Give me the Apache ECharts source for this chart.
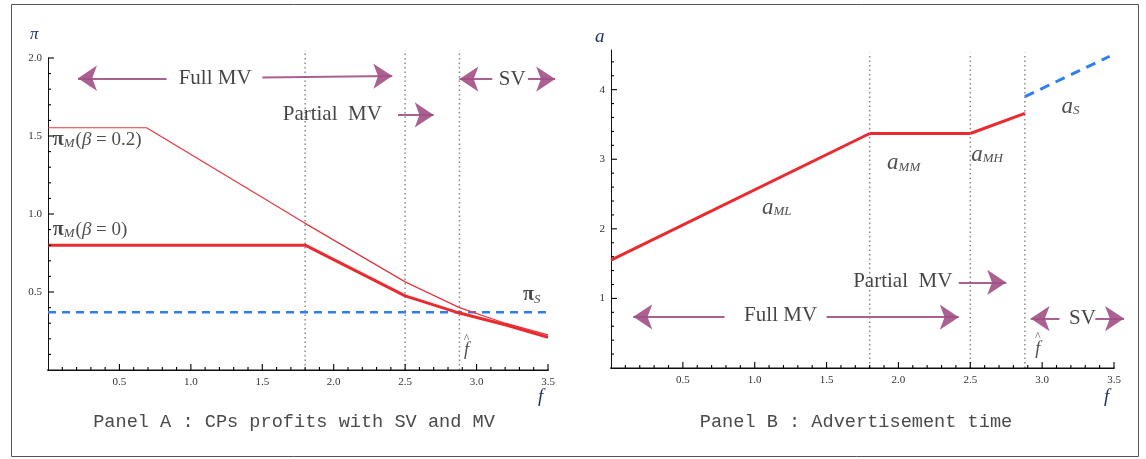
<!DOCTYPE html>
<html>
<head>
<meta charset="utf-8">
<script src="https://cdn.jsdelivr.net/npm/echarts@6/dist/echarts.min.js"></script>
<style>
html,body{margin:0;padding:0;background:#fff;}
#chart{width:1146px;height:459px;}
</style>
</head>
<body>
<div id="chart"></div>
<script>
// ---------- data ----------
const xTicks = [0, 0.5, 1.0, 1.5, 2.0, 2.5, 3.0, 3.5];
const xTickLabels = ['', '0.5', '1.0', '1.5', '2.0', '2.5', '3.0', '3.5'];
const yTicksA = [0, 0.5, 1.0, 1.5, 2.0];
const yTickLabelsA = ['', '0.5', '1.0', '1.5', '2.0'];
const yTicksB = [0, 1, 2, 3, 4];
const yTickLabelsB = ['', '1', '2', '3', '4'];
const minorSplit = 5;
const fBreaks = [1.8, 2.5, 2.88];

// Panel A : profits
const piM_beta0  = [[0, 0.80], [1.8, 0.80], [2.5, 0.475], [2.88, 0.365], [3.2, 0.29], [3.5, 0.21]];
const piM_beta02 = [[0, 1.553], [0.69, 1.553], [1.8, 0.94], [2.5, 0.565], [2.88, 0.40], [3.2, 0.30], [3.5, 0.225]];
const piS        = [[0, 0.37], [3.5, 0.37]];

// Panel B : advertisement time
const aML = [[0, 1.55], [1.8, 3.37]];
const aMM = [[1.8, 3.37], [2.5, 3.37]];
const aMH = [[2.5, 3.37], [2.88, 3.66]];
const aS  = [[2.88, 3.90], [3.47, 4.48]];

// ---------- styles ----------
const RED = '#ea2a2f';
const RED_THIN = '#e2363f';
const BLUE = '#2f80ea';
const ARROW = '#a24f86';
const SERIF = '"Liberation Serif", "DejaVu Serif", serif';
const MONO = '"Liberation Mono", "DejaVu Sans Mono", monospace';

const rich = {
  t:   {fontFamily: SERIF, fontSize: 21, color: '#151515'},
  pi:  {fontFamily: SERIF, fontSize: 20, fontWeight: 'bold', color: '#1a1a1a'},
  a:   {fontFamily: SERIF, fontSize: 23, fontStyle: 'italic', color: '#222'},
  sub: {fontFamily: SERIF, fontSize: 13, fontStyle: 'italic', color: '#222', padding: [8, 1, 0, 0]},
  m:   {fontFamily: SERIF, fontSize: 19, color: '#222'},
  mi:  {fontFamily: SERIF, fontSize: 19, fontStyle: 'italic', color: '#222'},
  hat: {fontFamily: SERIF, fontSize: 12, color: '#333', lineHeight: 8},
  f:   {fontFamily: SERIF, fontSize: 18, fontStyle: 'italic', color: '#222', lineHeight: 16}
};

const texts = {
  full: '{t|Full MV}',
  partial: '{t|Partial  MV}',
  sv: '{t|SV}',
  pib02: '{pi|π}{sub|M}{m|(}{mi|β}{m| = 0.2)}',
  pib0: '{pi|π}{sub|M}{m|(}{mi|β}{m| = 0)}',
  pis: '{pi|π}{sub|S}',
  fhat: '{hat|^}\n{f|f}',
  aML: '{a|a}{sub|ML}',
  aMM: '{a|a}{sub|MM}',
  aMH: '{a|a}{sub|MH}',
  aS: '{a|a}{sub|S}'
};

function textSeries(idx, items, position) {
  return {
    type: 'scatter', xAxisIndex: idx, yAxisIndex: idx, symbolSize: 1, clip: false,
    itemStyle: {color: 'rgba(0,0,0,0)'}, silent: true, z: 20,
    label: {show: true, position: position || 'inside',
      distance: 0, formatter: p => texts[p.data[2]], rich: rich},
    data: items
  };
}
function arrowSeries(idx, segs) {
  return {
    type: 'lines', coordinateSystem: 'cartesian2d', xAxisIndex: idx, yAxisIndex: idx,
    clip: false, silent: true, z: 15,
    symbol: ['none', 'arrow'], symbolSize: [9, 19],
    lineStyle: {color: ARROW, width: 2, opacity: 0.9},
    data: segs.map(s => ({coords: s}))
  };
}
function lineSeries(idx, data, color, width, type) {
  return {
    type: 'line', xAxisIndex: idx, yAxisIndex: idx, data: data, showSymbol: false,
    symbol: 'none', clip: false, silent: true, animation: false,
    lineStyle: {color: color, width: width, type: type || 'solid'}, z: 5
  };
}
function vLines(idx, top) {
  return fBreaks.map(f => ({
    type: 'line', xAxisIndex: idx, yAxisIndex: idx, data: [[f, 0], [f, top]],
    symbol: 'none', clip: false, silent: true,
    lineStyle: {color: '#8a8a8a', width: 1.5, type: [1.5, 3]}, z: 3
  }));
}
function baseLine(idx, from, to) {
  return lineSeries(idx, [[from, 0], [to, 0]], '#111', 1);
}
function labelFrom(ticks, labels) {
  return v => {
    for (let i = 0; i < ticks.length; i++) if (Math.abs(v - ticks[i]) < 1e-6) return labels[i];
    return '';
  };
}
// minor tick values: each major interval subdivided like the axis' minorTick
function minorOf(ticks, upTo) {
  const out = [];
  for (let i = 0; i < ticks.length; i++) {
    const step = i + 1 < ticks.length ? ticks[i + 1] - ticks[i] : ticks[1] - ticks[0];
    for (let k = 1; k < minorSplit; k++) {
      const v = ticks[i] + step * k / minorSplit;
      if (i + 1 < ticks.length || (upTo !== undefined && v <= upTo)) out.push(v);
    }
  }
  return out;
}
// tick marks as tiny rect symbols placed through the axes' scales (inside ticks)
function tickMarks(idx, vals, isX, len) {
  return {
    type: 'scatter', xAxisIndex: idx, yAxisIndex: idx, silent: true, clip: false, z: 12,
    symbol: 'rect',
    symbolSize: isX ? [1.1, len] : [len, 1.1],
    symbolOffset: isX ? [0, -len / 2] : [len / 2, 0],
    itemStyle: {color: '#000', opacity: 1},
    data: vals.map(v => isX ? [v, 0] : [0, v])
  };
}

const tickLabelStyle = {fontFamily: SERIF, fontSize: 11, color: '#333'};

function xAxis(idx) {
  return {
    type: 'value', gridIndex: idx, min: 0, max: 3.5, interval: 0.5,
    axisLine: {show: true, onZero: false, lineStyle: {color: '#111', width: 1}},
    axisTick: {show: false},
    minorTick: {show: false},
    splitLine: {show: false},
    axisLabel: Object.assign({margin: 7, formatter: labelFrom(xTicks, xTickLabels)}, tickLabelStyle)
  };
}

const option = {
  animation: false,
  backgroundColor: '#fff',
  grid: [
    {left: 48, top: 58, width: 500, height: 312},
    {left: 611, top: 50, width: 503, height: 318}
  ],
  xAxis: [xAxis(0), xAxis(1)],
  yAxis: [
    {
      type: 'value', gridIndex: 0, min: 0, max: 2.0, interval: 0.5,
      axisLine: {show: true, lineStyle: {color: '#111'}},
      axisTick: {show: false}, minorTick: {show: false},
      splitLine: {show: false},
      axisLabel: Object.assign({margin: 6, formatter: labelFrom(yTicksA, yTickLabelsA)}, tickLabelStyle)
    },
    {
      type: 'value', gridIndex: 1, min: 0, max: 4.57, interval: 1,
      axisLine: {show: true, lineStyle: {color: '#111'}},
      axisTick: {show: false}, minorTick: {show: false},
      splitLine: {show: false},
      axisLabel: Object.assign({margin: 6, formatter: labelFrom(yTicksB, yTickLabelsB)}, tickLabelStyle)
    }
  ],
  graphic: [
    {type: 'rect', shape: {x: 11.5, y: 4.5, width: 1127, height: 452},
     style: {fill: 'none', stroke: '#555', lineWidth: 1}, silent: true, z: -10},
    {type: 'text', left: 30, top: 26, style: {text: 'π', font: 'italic 17px ' + SERIF, fill: '#1f2d5c'}},
    {type: 'text', left: 538, top: 387, style: {text: 'f', font: 'italic 19px ' + SERIF, fill: '#1f2d5c'}},
    {type: 'text', left: 595, top: 27, style: {text: 'a', font: 'italic 19px ' + SERIF, fill: '#1f2d5c'}},
    {type: 'text', left: 1104, top: 387, style: {text: 'f', font: 'italic 19px ' + SERIF, fill: '#1f2d5c'}},
    {type: 'text', x: 294, y: 422, style: {text: 'Panel A : CPs profits with SV and MV',
      font: '18.6px ' + MONO, fill: '#4a4a4a', textAlign: 'center', textVerticalAlign: 'middle'}},
    {type: 'text', x: 856, y: 422, style: {text: 'Panel B : Advertisement time',
      font: '18.6px ' + MONO, fill: '#4a4a4a', textAlign: 'center', textVerticalAlign: 'middle'}}
  ],
  series: [
    baseLine(0, -0.075, 3.56),
    tickMarks(0, xTicks.slice(1), true, 6),
    tickMarks(0, minorOf(xTicks), true, 3),
    tickMarks(0, yTicksA.slice(1), false, 6),
    tickMarks(0, minorOf(yTicksA), false, 3),
    ...vLines(0, 2.05),
    lineSeries(0, piS, BLUE, 2.5, [8, 6]),
    lineSeries(0, piM_beta02, RED_THIN, 1.2),
    lineSeries(0, piM_beta0, RED, 3),
    arrowSeries(0, [
      [[0.83, 1.87], [0.21, 1.87]],
      [[1.50, 1.875], [2.41, 1.885]],
      [[2.45, 1.635], [2.70, 1.635]],
      [[3.11, 1.865], [2.88, 1.865]],
      [[3.36, 1.865], [3.55, 1.865]]
    ]),
    textSeries(0, [
      [1.17, 1.87, 'full'],
      [1.99, 1.635, 'partial'],
      [3.25, 1.865, 'sv'],
      [3.39, 0.48, 'pis'],
      [2.93, 0.15, 'fhat']
    ]),
    textSeries(0, [
      [0.03, 1.474, 'pib02'],
      [0.03, 0.90, 'pib0']
    ], 'right'),
    baseLine(1, -0.075, 3.565),
    tickMarks(1, xTicks.slice(1), true, 6),
    tickMarks(1, minorOf(xTicks), true, 3),
    tickMarks(1, yTicksB.slice(1), false, 6),
    tickMarks(1, minorOf(yTicksB, 4.57), false, 3),
    ...vLines(1, 4.53),
    lineSeries(1, aML, RED, 3),
    lineSeries(1, aMM, RED, 3),
    lineSeries(1, aMH, RED, 3),
    lineSeries(1, aS, BLUE, 3, [10, 7]),
    arrowSeries(1, [
      [[0.79, 0.735], [0.155, 0.735]],
      [[1.50, 0.73], [2.42, 0.73]],
      [[2.42, 1.23], [2.75, 1.23]],
      [[3.12, 0.71], [2.92, 0.71]],
      [[3.37, 0.71], [3.57, 0.71]]
    ]),
    textSeries(1, [
      [1.18, 0.757, 'full'],
      [2.03, 1.24, 'partial'],
      [3.28, 0.71, 'sv'],
      [1.157, 2.30, 'aML'],
      [2.04, 2.94, 'aMM'],
      [2.62, 3.06, 'aMH'],
      [3.20, 3.75, 'aS'],
      [2.97, 0.33, 'fhat']
    ])
  ]
};

const chart = echarts.init(document.getElementById('chart'), null, {renderer: 'canvas'});
chart.setOption(option);
</script>
</body>
</html>
